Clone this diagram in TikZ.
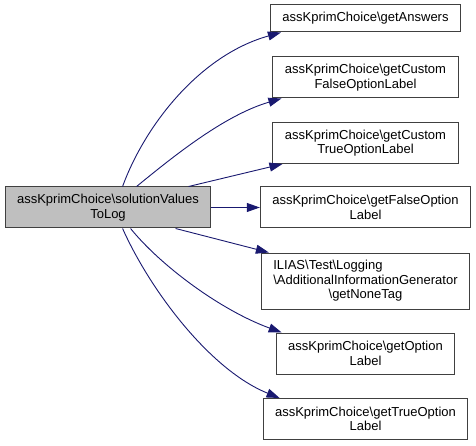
\documentclass[tikz,border=0pt]{standalone}
\usepackage{fontspec}
\setmainfont{Liberation Sans}
\usetikzlibrary{arrows.meta}
\definecolor{edgeblue}{RGB}{25,25,112}
\definecolor{mainfill}{RGB}{191,191,191}
\definecolor{boxline}{RGB}{64,64,64}
\newcommand{\bs}{\textbackslash}
\begin{document}
\begin{tikzpicture}[x=1pt,y=-1pt,
  box/.style={draw=boxline, line width=1pt, fill=white,
    font=\fontsize{13}{14.5}\selectfont, align=center,
    inner xsep=12pt, inner ysep=0pt, anchor=center},
  one/.style={minimum height=27pt},
  two/.style={minimum height=41pt},
  three/.style={minimum height=56pt},
  edge/.style={draw=edgeblue, line width=0.9pt,
    -{Triangle[length=13pt,width=9pt]}}]
\useasboundingbox (0,0) rectangle (476,446);

\node[box, two, fill=mainfill] (main) at (108,207.5)
  {assKprimChoice\bs solutionValues\\ToLog};

\node[box, one]   (a1) at (365.5,18.5)  {assKprimChoice\bs getAnswers};
\node[box, two]   (a2) at (365.5,77.5)  {assKprimChoice\bs getCustom\\FalseOptionLabel};
\node[box, two]   (a3) at (365.5,143)   {assKprimChoice\bs getCustom\\TrueOptionLabel};
\node[box, two]   (a4) at (365.5,207.5) {assKprimChoice\bs getFalseOption\\Label};
\node[box, three] (a5) at (365.5,281)
  {\rlap{ILIAS\bs Test\bs Logging}\phantom{\bs AdditionalInformationGenerator}\\
   \bs AdditionalInformationGenerator\\\bs getNoneTag};
\node[box, two]   (a6) at (365.5,353.5) {assKprimChoice\bs getOption\\Label};
\node[box, two]   (a7) at (365.5,419)   {assKprimChoice\bs getTrueOption\\Label};

\draw[edge] ([xshift=118pt]main.north west) .. controls (145,125) and (200,55) .. ([xshift=11pt]a1.south west);
\draw[edge] ([xshift=132pt]main.north west) .. controls (175,155) and (225,115) .. ([xshift=9pt]a2.south west);
\draw[edge] ([xshift=184pt]main.north west) -- ([xshift=10pt]a3.south west);
\draw[edge] (main.east) -- (a4.west);
\draw[edge] ([xshift=171pt]main.south west) -- ([xshift=8pt]a5.north west);
\draw[edge] ([xshift=126pt]main.south west) .. controls (160,265) and (220,310) .. ([xshift=6pt]a6.north west);
\draw[edge] ([xshift=118pt]main.south west) .. controls (150,290) and (210,370) .. ([xshift=17pt]a7.north west);
\end{tikzpicture}
\end{document}
